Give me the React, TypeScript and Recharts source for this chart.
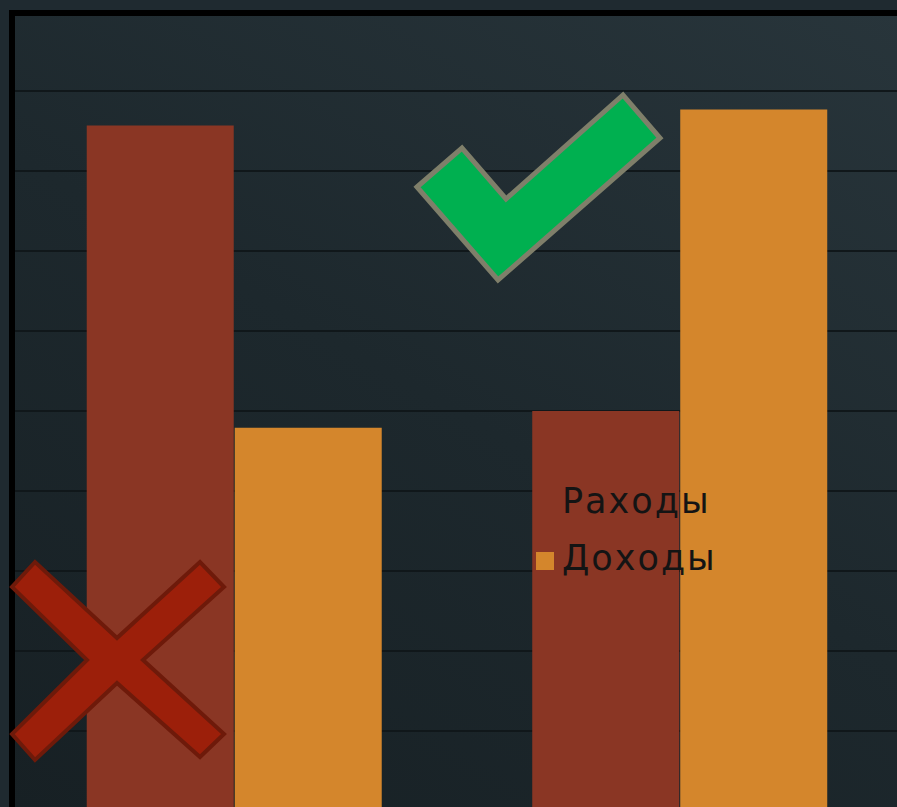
import React from "react";
import { BarChart, Bar, XAxis, YAxis, CartesianGrid } from "recharts";

const categories = ["Было", "Стало"];
const expenses = [8.57, 5.0];
const incomes = [4.79, 8.77];
const yTicks = [0, 1, 2, 3, 4, 5, 6, 7, 8, 9, 10];

const EXP_COLOR = "#8a3624";
const INC_COLOR = "#d4862c";

const series = [
  { key: "exp", name: "Раходы", color: EXP_COLOR },
  { key: "inc", name: "Доходы", color: INC_COLOR },
];

const data = categories.map((c, i) => ({
  name: c,
  exp: expenses[i],
  inc: incomes[i],
}));

function LegendBox() {
  return (
    <div style={{ position: "absolute", left: 536, top: 473 }}>
      {series.map((s) => (
        <div key={s.key} style={{ display: "flex", alignItems: "center", height: 57 }}>
          <span
            style={{
              display: "inline-block",
              width: 18,
              height: 18,
              background: s.color,
              marginRight: 8,
              marginTop: 4,
            }}
          />
          <span
            style={{
              fontFamily: "'DejaVu Sans', sans-serif",
              fontSize: 35,
              letterSpacing: 2,
              color: "#141414",
              lineHeight: "57px",
            }}
          >
            {s.name}
          </span>
        </div>
      ))}
    </div>
  );
}

export default function App() {
  return (
    <div
      style={{
        position: "fixed",
        left: 0,
        top: 0,
        width: 897,
        height: 807,
        overflow: "hidden",
        background: "#1f2a30",
      }}
    >
      <div
        style={{
          position: "absolute",
          left: 11,
          top: 11,
          width: 891,
          height: 800,
          background: "linear-gradient(30deg, #172024 0%, #1d282d 50%, #28353b 100%)",
        }}
      />
      <div style={{ position: "absolute", left: 0, top: 0 }}>
        <BarChart
          width={902}
          height={811}
          data={data}
          margin={{ top: 11, left: 11, right: 0, bottom: 0 }}
          barCategoryGap="17%"
          barGap={1}
        >
          <CartesianGrid vertical={false} stroke="#10171a" strokeWidth={2} />
          <XAxis dataKey="name" hide />
          <YAxis hide domain={[0, 10]} ticks={yTicks} />
          {series.map((s) => (
            <Bar
              key={s.key}
              dataKey={s.key}
              name={s.name}
              fill={s.color}
              isAnimationActive={false}
            />
          ))}
        </BarChart>
      </div>
      <LegendBox />
      <div
        style={{
          position: "absolute",
          left: 9,
          top: 10,
          width: 900,
          height: 800,
          borderLeft: "6px solid #000",
          borderTop: "6px solid #000",
          pointerEvents: "none",
        }}
      />
      <svg
        width={897}
        height={807}
        style={{ position: "absolute", left: 0, top: 0, pointerEvents: "none" }}
      >
        <polygon
          points="417,187 462,148 506,199 623,95 660,138 498,280"
          fill="#00b050"
          stroke="#7f7f6a"
          strokeWidth={5}
          strokeLinejoin="miter"
        />
        <polygon
          points="35,562 12,587 87,660 12,734 35,760 117,683 200,757 224,734 143,660 224,587 200,562 117,638"
          fill="#9c1f0a"
          stroke="#6e1a0a"
          strokeWidth={4}
          strokeLinejoin="miter"
        />
      </svg>
    </div>
  );
}
